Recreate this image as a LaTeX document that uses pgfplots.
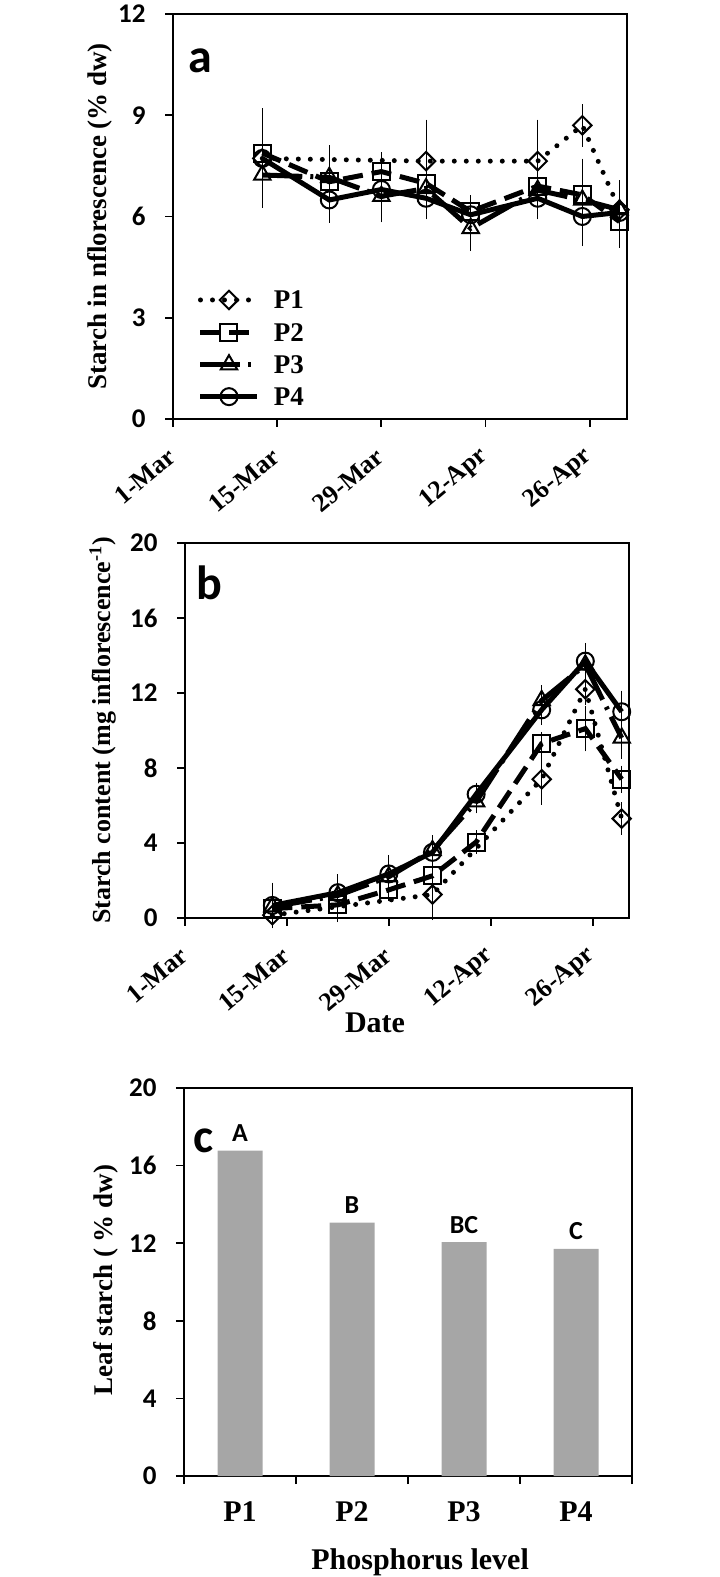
\documentclass[border=0pt]{standalone}
\usepackage{pgfplots}
\pgfplotsset{compat=1.18}
\usepackage{fontspec}
\setmainfont{Liberation Serif}
\newfontfamily\calibri{Carlito}
\definecolor{barGray}{HTML}{A6A6A6}

\pgfplotsset{
  panel/.style={scale only axis, clip=false, tick pos=left, tick align=outside,
    major tick length=8pt, axis line style={line width=1.8pt},
    every tick/.style={line width=1.8pt, black},
    /pgf/number format/assume math mode=true,
    yticklabel={\calibri\bfseries\pgfmathprintnumber{\tick}},
    yticklabel style={font=\calibri\bfseries\fontsize{27}{27}\selectfont, xshift=-16pt},
    ylabel style={font=\bfseries\fontsize{27}{29}\selectfont, anchor=center},
    xlabel style={font=\bfseries\fontsize{30}{30}\selectfont, anchor=base}},
  dates/.style={xmin=0, xmax=61, xtick={0,14,28,42,56},
    xticklabels={1-Mar,15-Mar,29-Mar,12-Apr,26-Apr},
    xticklabel style={font=\bfseries\fontsize{26}{26}\selectfont,
      xshift=-1pt, yshift=-26pt, rotate=40, anchor=east, inner sep=0pt}},
  errs/.style={error bars/.cd, y dir=both, y explicit,
    error mark options={mark size=6pt, line width=0.9pt, solid},
    error bar style={line width=0.9pt, solid}},
  sP1/.style={black, line width=5pt, dash pattern=on 0pt off 12pt, line cap=round,
    mark=square, mark size=6.5pt, mark options={solid, rotate=45, line width=2pt}},
  sP2/.style={black, line width=5pt, dash pattern=on 20pt off 9pt,
    mark=square, mark size=8.5pt, mark options={solid, line width=2pt}},
  sP3/.style={black, line width=5pt, dash pattern=on 40pt off 8pt on 3pt off 8pt,
    mark=triangle, mark size=9.5pt, mark options={solid, line width=2pt}},
  sP4/.style={black, line width=5pt, solid,
    mark=o, mark size=8.5pt, mark options={solid, line width=2pt}},
}

\begin{document}
\begin{tikzpicture}[x=1pt, y=1pt]
\useasboundingbox (0,0) rectangle (720,1577);

% panel a
\begin{axis}[panel, dates, at={(173pt,1158pt)}, anchor=south west,
  width=454pt, height=405pt, ymin=0, ymax=12, ytick={0,3,6,9,12},
  ylabel={Starch in nflorescence (\% dw)},
  ylabel style={at={(axis description cs:-0.161,0.5)}},
  legend image code/.code={\draw[mark repeat=2, mark phase=2, #1]
    plot coordinates {(0pt,0pt) (28.5pt,0pt) (57pt,0pt)};},
  legend style={at={(axis description cs:0.048,0.322)}, anchor=north west,
    draw=none, fill=none, font=\bfseries\fontsize{27}{29}\selectfont,
    nodes={inner sep=0pt, text height=18pt, text depth=0pt},
    row sep=14pt, column sep=14pt},
  legend cell align=left]
\addplot[sP1, errs] coordinates {
  (12,7.72) +- (0,0.55) (34,7.64) +- (0,1.05) (49,7.64) +- (0,1.05)
  (55,8.70) +- (0,0.45) (60,6.20) +- (0,0.70)};
\addplot[sP2, errs] coordinates {
  (12,7.88) +- (0,1.15) (21,7.03) +- (0,0.90) (28,7.33) +- (0,0.40)
  (34,6.98) +- (0,0.40) (40,6.15) +- (0,0.30) (49,6.90) +- (0,0.40)
  (55,6.64) +- (0,0.90) (60,5.85) +- (0,0.60)};
\addplot[sP3, errs] coordinates {
  (12,7.23) +- (0,0.80) (21,7.16) +- (0,0.30) (28,6.60) +- (0,0.60)
  (34,6.83) +- (0,0.30) (40,5.65) +- (0,0.50) (49,6.78) +- (0,0.30)
  (55,6.49) +- (0,0.70) (60,6.20) +- (0,0.70)};
\addplot[sP4, errs] coordinates {
  (12,7.72) +- (0,1.05) (21,6.49) +- (0,0.50) (28,6.80) +- (0,0.30)
  (34,6.54) +- (0,0.45) (40,6.05) +- (0,0.30) (49,6.54) +- (0,0.45)
  (55,6.00) +- (0,0.70) (60,6.12) +- (0,0.75)};
\legend{P1,P2,P3,P4}
\node[anchor=base west, inner sep=0pt, font=\calibri\bfseries\fontsize{48}{48}\selectfont]
  at (rel axis cs:0.033,0.855) {a};
\end{axis}

% panel b
\begin{axis}[panel, dates, at={(185pt,659pt)}, anchor=south west,
  width=444pt, height=375pt, ymin=0, ymax=20, ytick={0,4,...,20},
  ylabel={Starch content (mg inflorescence\textsuperscript{-1})},
  ylabel style={at={(axis description cs:-0.185,0.5)}, font=\bfseries\fontsize{26}{28}\selectfont},
  xlabel={Date},
  xlabel style={at={(axis description cs:0.428,-0.305)}}]
\addplot[sP1, errs] coordinates {
  (12,0.15) +- (0,0.20) (34,1.25) +- (0,1.05) (49,7.40) +- (0,1.05)
  (55,12.2) +- (0,0.50) (60,5.30) +- (0,0.55)};
\addplot[sP2, errs] coordinates {
  (12,0.50) +- (0,0.30) (21,0.70) +- (0,0.60) (28,1.50) +- (0,0.30)
  (34,2.25) +- (0,0.30) (40,4.05) +- (0,0.30) (49,9.30) +- (0,0.30)
  (55,10.1) +- (0,0.90) (60,7.40) +- (0,0.40)};
\addplot[sP3, errs] coordinates {
  (12,0.60) +- (0,0.50) (21,1.20) +- (0,0.40) (28,2.20) +- (0,0.40)
  (34,3.60) +- (0,0.30) (40,6.20) +- (0,0.30) (49,11.6) +- (0,0.50)
  (55,13.5) +- (0,0.50) (60,9.60) +- (0,0.80)};
\addplot[sP4, errs] coordinates {
  (12,0.67) +- (0,0.90) (21,1.35) +- (0,0.65) (28,2.35) +- (0,0.70)
  (34,3.50) +- (0,0.60) (40,6.60) +- (0,0.30) (49,11.1) +- (0,0.50)
  (55,13.7) +- (0,0.65) (60,11.0) +- (0,0.80)};
\node[anchor=base west, inner sep=0pt, font=\calibri\bfseries\fontsize{48}{48}\selectfont]
  at (rel axis cs:0.025,0.85) {b};
\end{axis}

% panel c
\begin{axis}[panel, at={(184pt,101pt)}, anchor=south west,
  width=448pt, height=388pt, ymin=0, ymax=20, ytick={0,4,...,20},
  xmin=0.5, xmax=4.5, xtick={1,2,3,4}, xticklabels={P1,P2,P3,P4},
  major x tick style={draw=none},
  minor xtick={0.5,1.5,2.5,3.5,4.5}, minor tick length=8pt,
  minor x tick style={line width=1.8pt, black},
  xticklabel style={font=\bfseries\fontsize{30}{30}\selectfont, anchor=base, yshift=-37pt},
  ylabel={Leaf starch ( \% dw)},
  ylabel style={at={(axis description cs:-0.174,0.505)}},
  xlabel={Phosphorus level},
  xlabel style={at={(axis description cs:0.527,-0.242)}, font=\bfseries\fontsize{30}{30}\selectfont},
  ybar, bar width=45pt,
  point meta=explicit symbolic, nodes near coords,
  nodes near coords style={font=\calibri\bfseries\fontsize{26}{26}\selectfont,
    anchor=base, inner sep=0pt, yshift=9pt}]
\addplot[fill=barGray, draw=none] coordinates {
  (1,16.77) [A] (2,13.06) [B] (3,12.06) [BC] (4,11.71) [C]};
\node[anchor=base west, inner sep=0pt, font=\calibri\bfseries\fontsize{48}{48}\selectfont]
  at (rel axis cs:0.02,0.835) {c};
\end{axis}
\end{tikzpicture}
\end{document}
